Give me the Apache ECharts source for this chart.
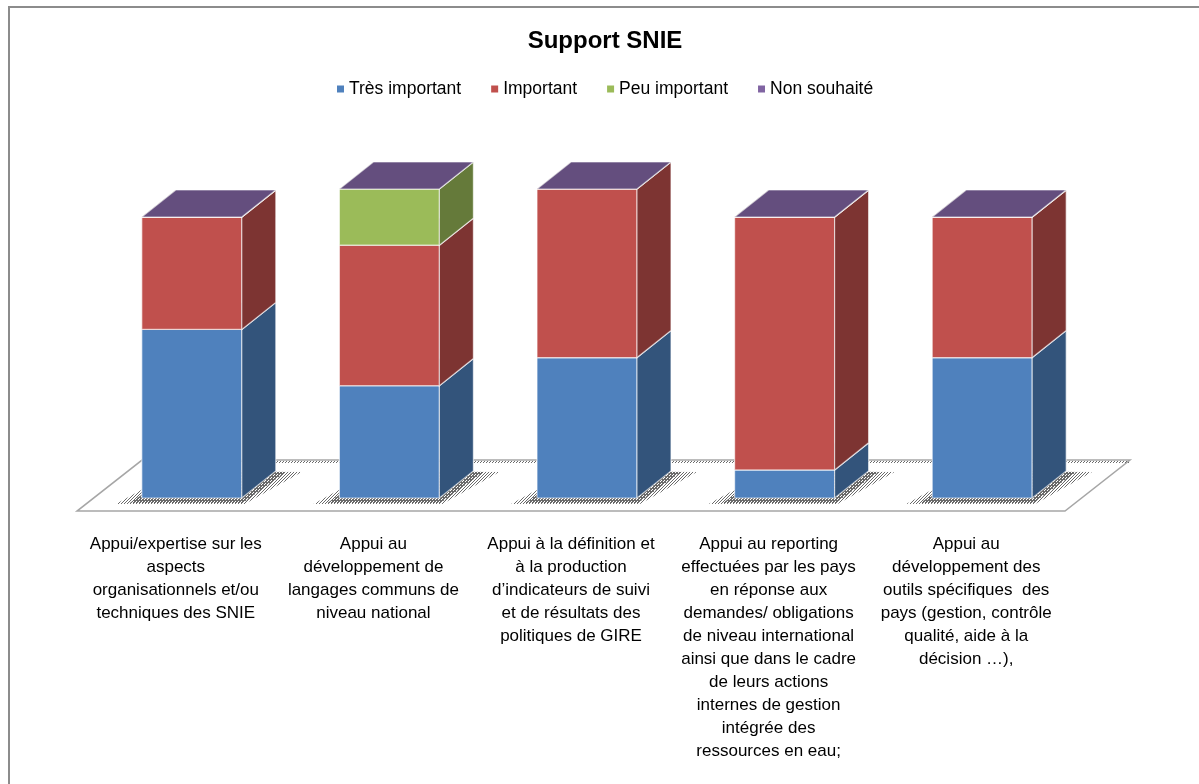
<!DOCTYPE html>
<html>
<head>
<meta charset="utf-8">
<script src="https://cdn.jsdelivr.net/npm/echarts@6/dist/echarts.min.js"></script>
<style>
html,body{margin:0;padding:0;background:#fff;}
#chart{width:1199px;height:784px;}
</style>
</head>
<body>
<div id="chart"></div>
<script>
const categories = [
  "Appui/expertise sur les\naspects\norganisationnels et/ou\ntechniques des SNIE",
  "Appui au\ndéveloppement de\nlangages communs de\nniveau national",
  "Appui à la définition et\nà la production\nd’indicateurs de suivi\net de résultats des\npolitiques de GIRE",
  "Appui au reporting\neffectuées par les pays\nen réponse aux\ndemandes/ obligations\nde niveau international\nainsi que dans le cadre\nde leurs actions\ninternes de gestion\nintégrée des\nressources en eau;",
  "Appui au\ndéveloppement des\noutils spécifiques  des\npays (gestion, contrôle\nqualité, aide à la\ndécision …),"
];
const seriesNames = ["Très important", "Important", "Peu important", "Non souhaité"];
const tresImportant = [6, 4, 5, 1, 5];
const important     = [4, 5, 6, 9, 5];
const peuImportant  = [0, 2, 0, 0, 0];
const nonSouhaite   = [0, 0, 0, 0, 0];
const seriesValues = [tresImportant, important, peuImportant, nonSouhaite];
const seriesColors = ["#4F81BD", "#C0504D", "#9BBB59", "#8064A2"];

const FONT = "'Liberation Sans', Arial, sans-serif";

function shade(hex, f) {
  const n = parseInt(hex.slice(1), 16);
  const r = Math.round(((n >> 16) & 255) * f);
  const g = Math.round(((n >> 8) & 255) * f);
  const b = Math.round((n & 255) * f);
  return "rgb(" + r + "," + g + "," + b + ")";
}

// dither patterns for shadows on the floor
function makeDither(px, color) {
  const cv = document.createElement("canvas");
  cv.width = 3; cv.height = 3;
  const c = cv.getContext("2d");
  c.fillStyle = color;
  px.forEach(function (p) { c.fillRect(p[0], p[1], 1, 1); });
  return { image: cv, repeat: "repeat" };
}
const ditherDense = makeDither([[0, 0], [2, 0], [1, 1], [0, 2], [2, 2]], "#6a6a6a");
const ditherLight = makeDither([[0, 0], [2, 1], [1, 2]], "#6a6a6a");

// geometry ratios (fractions of category band width)
const G = { w: 0.506, off: 0.081, dx: 0.172, dy: -0.137, ffy: 0.066, bdx: 0.329, bdy: -0.192 };

function barRender(params, api) {
  const i = api.value(0), lo = api.value(1), hi = api.value(2);
  const band = api.size([1, 0])[0];
  const pLo = api.coord([i, lo]), pHi = api.coord([i, hi]);
  const w = band * G.w, dx = band * G.dx, dy = band * G.dy;
  const x0 = pLo[0] + band * G.off - w / 2, x1 = x0 + w;
  const yb = pLo[1], yt = pHi[1];
  const color = api.visual("color");
  const edge = { stroke: "rgba(255,255,255,0.6)", lineWidth: 1.2 };
  const children = [];
  if (yb - yt > 0.5) {
    children.push({ type: "rect", shape: { x: x0, y: yt, width: w, height: yb - yt },
      style: Object.assign({ fill: color }, edge) });
    children.push({ type: "polygon", shape: { points: [[x1, yb], [x1, yt], [x1 + dx, yt + dy], [x1 + dx, yb + dy]] },
      style: Object.assign({ fill: shade(color, 0.65) }, edge) });
  }
  children.push({ type: "polygon", shape: { points: [[x0, yt], [x1, yt], [x1 + dx, yt + dy], [x0 + dx, yt + dy]] },
    style: Object.assign({ fill: shade(color, 0.78) }, edge) });
  return { type: "group", children: children };
}

function floorRender(params, api) {
  const band = api.size([1, 0])[0];
  const n = categories.length;
  const c0 = api.coord([0, 0]), cN = api.coord([n - 1, 0]);
  const L = c0[0] - band / 2, R = cN[0] + band / 2, y0 = c0[1];
  const fy = y0 + band * G.ffy, bdx = band * G.bdx, by = y0 + band * G.bdy;
  const children = [];
  children.push({ type: "polygon", shape: { points: [[L, fy], [R, fy], [R + bdx, by], [L + bdx, by]] },
    style: { fill: "#fff", stroke: "#a6a6a6", lineWidth: 1.5 } });
  children.push({ type: "rect", shape: { x: L + bdx, y: by + 1, width: R - L - 1, height: 2 },
    style: { fill: ditherLight } });
  for (let i = 0; i < n; i++) {
    const p = api.coord([i, 0]);
    const w = band * G.w, dx = band * G.dx, dy = band * G.dy;
    const x0 = p[0] + band * G.off - w / 2, x1 = x0 + w;
    children.push({ type: "polygon",
      shape: { points: [[x0 - 26, y0 + 6], [x1 + 3, y0 + 6], [x1 + dx + 26, y0 + dy + 1], [x0 + dx, y0 + dy]] },
      style: { fill: ditherLight } });
    children.push({ type: "polygon",
      shape: { points: [[x0 - 12, y0 + 5], [x1 + 1, y0 + 5], [x1 + dx + 10, y0 + dy + 1], [x0 + dx, y0 + dy]] },
      style: { fill: ditherDense } });
  }
  return { type: "group", children: children };
}

function stackData(k) {
  return categories.map(function (_, i) {
    let base = 0;
    for (let j = 0; j < k; j++) base += seriesValues[j][i];
    return [i, base, base + seriesValues[k][i]];
  });
}

const series = [{
  type: "custom", name: "floor", renderItem: floorRender, data: [[0, 0]],
  silent: true, z: 1
}];
seriesNames.forEach(function (name, k) {
  series.push({
    type: "custom", name: name, renderItem: barRender,
    itemStyle: { color: seriesColors[k] },
    encode: { x: 0, y: [1, 2] },
    data: stackData(k), z: 2
  });
});

const chart = echarts.init(document.getElementById("chart"), null, { renderer: "canvas" });
chart.setOption({
  animation: false,
  backgroundColor: "#fff",
  title: {
    text: "Support SNIE", left: 605, top: 26, textAlign: "center", padding: 0,
    textStyle: { fontFamily: FONT, fontSize: 24, fontWeight: "bold", color: "#000", lineHeight: 30 }
  },
  legend: {
    data: seriesNames, left: 332, top: 73, icon: "rect", itemWidth: 7, itemHeight: 7, itemGap: 30,
    textStyle: { fontFamily: FONT, fontSize: 17.5, color: "#000", lineHeight: 22 }
  },
  graphic: [{
    type: "rect", silent: true, z: -1,
    shape: { x: 9, y: 7, width: 1300, height: 900 },
    style: { fill: "none", stroke: "#8c8c8c", lineWidth: 2 }
  }],
  grid: { left: 77, right: 134, top: 189, bottom: 286, containLabel: false },
  xAxis: {
    type: "category", data: categories, boundaryGap: true,
    axisLine: { show: false }, axisTick: { show: false }, splitLine: { show: false },
    axisLabel: { interval: 0, margin: 35, fontFamily: FONT, fontSize: 17, lineHeight: 23, color: "#000", align: "center" }
  },
  yAxis: { type: "value", min: 0, max: 11, show: false },
  series: series
});
</script>
</body>
</html>
